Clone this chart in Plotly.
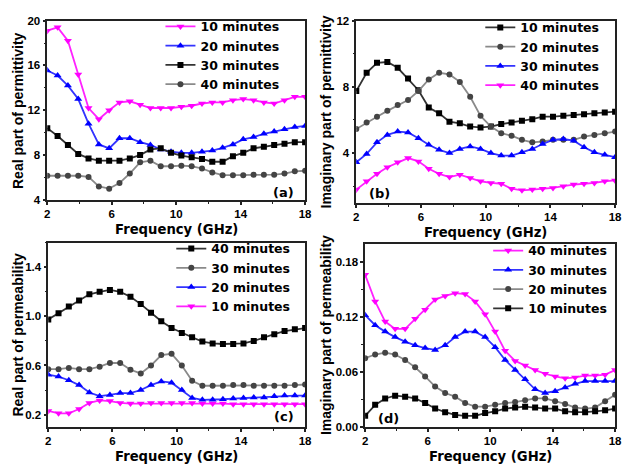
import plotly.graph_objects as go

W, H = 629, 465

freq = [round(2 + 0.64 * i, 2) for i in range(26)]

# Panel (a): real part of permittivity
a_10 = [19.1, 19.4, 18.2, 15.2, 12.2, 11.2, 12.0, 12.7, 12.8, 12.5, 12.2, 12.2, 12.2, 12.3, 12.4, 12.6, 12.7, 12.7, 12.9, 13.0, 12.9, 12.7, 12.6, 12.9, 13.2, 13.2]
a_20 = [15.55, 15.1, 14.2, 13.0, 10.8, 8.95, 8.6, 9.5, 9.5, 9.15, 8.9, 8.5, 8.3, 8.2, 8.2, 8.3, 8.4, 8.65, 8.95, 9.4, 9.6, 9.9, 10.1, 10.3, 10.5, 10.6]
a_30 = [10.4, 9.7, 8.9, 8.1, 7.7, 7.5, 7.5, 7.5, 7.7, 8.0, 8.5, 8.6, 8.2, 7.95, 7.8, 7.65, 7.4, 7.4, 7.9, 8.2, 8.6, 8.75, 8.9, 9.0, 9.15, 9.15]
a_40 = [6.15, 6.15, 6.15, 6.15, 6.05, 5.2, 5.0, 5.5, 6.35, 7.35, 7.5, 7.0, 7.0, 7.05, 7.0, 6.8, 6.45, 6.2, 6.2, 6.2, 6.25, 6.25, 6.25, 6.35, 6.55, 6.6]

# Panel (b): imaginary part of permittivity
b_10 = [7.75, 8.85, 9.45, 9.5, 9.15, 8.5, 7.8, 6.75, 6.4, 5.9, 5.8, 5.6, 5.55, 5.6, 5.75, 5.85, 5.95, 6.05, 6.2, 6.2, 6.25, 6.3, 6.35, 6.4, 6.45, 6.5]
b_20 = [5.45, 5.85, 6.2, 6.55, 6.9, 7.2, 7.75, 8.45, 8.85, 8.75, 8.3, 7.4, 6.25, 5.6, 5.2, 5.05, 4.8, 4.65, 4.7, 4.8, 4.8, 4.8, 5.0, 5.1, 5.2, 5.3]
b_30 = [3.45, 3.95, 4.65, 5.1, 5.3, 5.25, 4.9, 4.5, 4.2, 4.0, 4.25, 4.4, 4.25, 4.0, 3.85, 3.85, 4.05, 4.25, 4.55, 4.8, 4.85, 4.75, 4.35, 4.05, 3.9, 3.75]
b_40 = [1.8, 2.3, 2.75, 3.15, 3.45, 3.7, 3.5, 3.05, 2.75, 2.55, 2.7, 2.5, 2.3, 2.2, 2.15, 1.85, 1.75, 1.8, 1.85, 1.9, 2.0, 2.1, 2.15, 2.2, 2.3, 2.35]

# Panel (c): real part of permeability
c_40 = [0.975, 1.025, 1.08, 1.13, 1.18, 1.2, 1.215, 1.2, 1.16, 1.1, 1.03, 0.96, 0.905, 0.865, 0.83, 0.795, 0.78, 0.775, 0.775, 0.78, 0.8, 0.83, 0.855, 0.88, 0.895, 0.905]
c_30 = [0.57, 0.57, 0.58, 0.57, 0.57, 0.59, 0.62, 0.62, 0.565, 0.535, 0.6, 0.685, 0.695, 0.6, 0.475, 0.435, 0.435, 0.435, 0.44, 0.44, 0.435, 0.435, 0.435, 0.435, 0.44, 0.445]
c_20 = [0.525, 0.51, 0.48, 0.44, 0.38, 0.35, 0.36, 0.375, 0.375, 0.4, 0.44, 0.47, 0.46, 0.4, 0.335, 0.32, 0.32, 0.325, 0.33, 0.335, 0.34, 0.34, 0.35, 0.355, 0.355, 0.355]
c_10 = [0.23, 0.21, 0.21, 0.245, 0.295, 0.315, 0.31, 0.295, 0.29, 0.29, 0.295, 0.295, 0.295, 0.295, 0.295, 0.29, 0.29, 0.29, 0.285, 0.285, 0.285, 0.285, 0.285, 0.285, 0.285, 0.285]

# Panel (d): imaginary part of permeability
d_40 = [0.166, 0.137, 0.115, 0.107, 0.107, 0.118, 0.128, 0.139, 0.143, 0.146, 0.145, 0.137, 0.123, 0.104, 0.083, 0.072, 0.067, 0.062, 0.058, 0.055, 0.053, 0.054, 0.056, 0.056, 0.057, 0.062]
d_30 = [0.122, 0.111, 0.104, 0.098, 0.093, 0.089, 0.086, 0.084, 0.089, 0.098, 0.104, 0.104, 0.098, 0.087, 0.073, 0.062, 0.052, 0.041, 0.037, 0.039, 0.043, 0.047, 0.05, 0.05, 0.05, 0.05]
d_20 = [0.075, 0.079, 0.081, 0.079, 0.073, 0.065, 0.055, 0.044, 0.037, 0.033, 0.026, 0.022, 0.022, 0.024, 0.026, 0.027, 0.029, 0.031, 0.031, 0.028, 0.025, 0.021, 0.020, 0.021, 0.028, 0.035]
d_10 = [0.012, 0.024, 0.031, 0.034, 0.033, 0.031, 0.026, 0.020, 0.016, 0.013, 0.012, 0.012, 0.015, 0.017, 0.020, 0.021, 0.022, 0.021, 0.020, 0.020, 0.017, 0.016, 0.016, 0.017, 0.018, 0.020]

FONT = "Liberation Sans, Arial, sans-serif"
WIDE = "DejaVu Sans, Verdana, sans-serif"

STY = {
    "pink": dict(line="#FF22FF", marker="#FF00FF", symbol="triangle-down", size=7),
    "blue": dict(line="#3333FF", marker="#0000FF", symbol="triangle-up", size=7),
    "black": dict(line="#333333", marker="#000000", symbol="square", size=6),
    "gray": dict(line="#8A8A8A", marker="#444444", symbol="circle", size=6),
}

panels = [
    dict(series=[("10 minutes", a_10, "pink"), ("20 minutes", a_20, "blue"),
                 ("30 minutes", a_30, "black"), ("40 minutes", a_40, "gray")],
         yr=[4, 20], dt=4, t0=4, fmt="d", box=(45, 15, 307, 199),
         ytitle="Real part of permittivity", label="(a)", lab=(285, 191), leg=(160, 6)),
    dict(series=[("10 minutes", b_10, "black"), ("20 minutes", b_20, "gray"),
                 ("30 minutes", b_30, "blue"), ("40 minutes", b_40, "pink")],
         yr=[1, 12], dt=4, t0=0, fmt="d", box=(359, 15, 622, 202),
         ytitle="Imaginary part of permittivity", label="(b)", lab=(383, 192), leg=(485, 7)),
    dict(series=[("40 minutes", c_40, "black"), ("30 minutes", c_30, "gray"),
                 ("20 minutes", c_20, "blue"), ("10 minutes", c_10, "pink")],
         yr=[0.1, 1.6], dt=0.4, t0=0.2, fmt=".1f", box=(46, 243, 307, 432),
         ytitle="Real part of permeability", label="(c)", lab=(286, 421), leg=(171, 234)),
    dict(series=[("40 minutes", d_40, "pink"), ("30 minutes", d_30, "blue"),
                 ("20 minutes", d_20, "gray"), ("10 minutes", d_10, "black")],
         yr=[0, 0.2], dt=0.06, t0=0, fmt=".2f", box=(368, 244, 622, 432),
         ytitle="Imaginary part of permeability", label="(d)", lab=(392, 423), leg=(493, 236)),
]

fig = go.Figure()
layout = dict(
    width=W, height=H, margin=dict(l=0, r=0, t=0, b=0),
    paper_bgcolor="white", plot_bgcolor="white",
    font=dict(family=FONT, size=12, color="black", weight="bold"),
    annotations=[],
)

for k, p in enumerate(panels):
    n = "" if k == 0 else str(k + 1)
    xa, ya = "x" + n, "y" + n
    leg = "legend" if k == 0 else "legend" + str(k + 1)
    l, t, r, b = p["box"]
    for name, vals, sty in p["series"]:
        s = STY[sty]
        fig.add_trace(go.Scatter(
            x=freq, y=vals, name=name, mode="lines+markers",
            xaxis=xa, yaxis=ya, legend=leg,
            line=dict(color=s["line"], width=1.8),
            marker=dict(symbol=s["symbol"], size=s["size"], color=s["marker"], line=dict(width=0)),
        ))
    axcommon = dict(
        showline=True, linecolor="#222", linewidth=1.5, mirror=True,
        ticks="outside", ticklen=3, tickwidth=1.5, tickcolor="#222",
        showgrid=False, zeroline=False,
        tickfont=dict(family=FONT, size=11.5, color="black", weight="bold"),
    )
    layout["xaxis" + n] = dict(
        domain=[l / W, r / W], anchor=ya, range=[2, 18], tick0=2, dtick=4,
        minor=dict(ticks="outside", ticklen=2, tickwidth=1.2, tickcolor="#222", dtick=2, tick0=2),
        **axcommon)
    layout["yaxis" + n] = dict(
        domain=[1 - b / H, 1 - t / H], anchor=xa, range=p["yr"], tick0=p["t0"], dtick=p["dt"],
        tickformat=p["fmt"],
        minor=dict(ticks="outside", ticklen=2, tickwidth=1.2, tickcolor="#222", dtick=p["dt"] / 2),
        **axcommon)
    lx, ly = p["leg"]
    layout[leg] = dict(
        x=lx / W, y=1 - ly / H, xanchor="left", yanchor="top",
        bgcolor="rgba(0,0,0,0)", borderwidth=0, tracegroupgap=0,
        font=dict(family=WIDE, size=12.5, color="black", weight="bold"),
        itemwidth=30,
    )
    # x title
    layout["annotations"].append(dict(
        text="Frequency (GHz)", xref="paper", yref="paper",
        x=((l + r) / 2) / W, y=1 - (b + 30) / H, xanchor="center", yanchor="middle",
        showarrow=False, font=dict(family=WIDE, size=13.2, color="black", weight="bold")))
    # y title
    ytx = 15 if k % 2 == 0 else 328
    layout["annotations"].append(dict(
        text=p["ytitle"], xref="paper", yref="paper", textangle=-90,
        x=ytx / W, y=1 - ((t + b) / 2) / H, xanchor="center", yanchor="middle",
        showarrow=False, font=dict(family=FONT, size=14, color="black", weight="bold")))
    # panel label
    px, py = p["lab"]
    layout["annotations"].append(dict(
        text=p["label"], xref="paper", yref="paper",
        x=px / W, y=1 - py / H, xanchor="center", yanchor="middle",
        showarrow=False, font=dict(family=WIDE, size=13, color="black", weight="bold")))

fig.update_layout(**layout)
fig.write_html("out.html")
